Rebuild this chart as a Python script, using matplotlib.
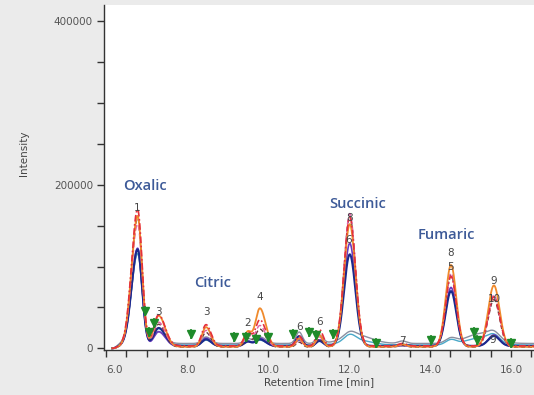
import numpy as np
import matplotlib
matplotlib.use("Agg")
import matplotlib.pyplot as plt
from matplotlib.ticker import MultipleLocator, FuncFormatter

# ---- peak table: retention times (min) and left/right widths (min) ----
peak_times = [6.78, 7.30, 8.47, 9.50, 9.80, 10.77, 11.27, 12.02, 13.32, 14.52, 15.58]
sigma_left = [0.15, 0.12, 0.10, 0.09, 0.11, 0.08, 0.08, 0.14, 0.10, 0.13, 0.14]
sigma_right = [0.11, 0.16, 0.12, 0.09, 0.14, 0.08, 0.09, 0.14, 0.10, 0.13, 0.14]

# ---- peak heights of each sample trace (intensity) ----
orange_heights = [160000, 38000, 24000, 18000, 47000, 10000, 14000, 150000, 3000, 100000, 75000]
red_heights = [167000, 38000, 26000, 16000, 32000, 12000, 20000, 157000, 3000, 85000, 60000]
pink_heights = [150000, 30000, 20000, 14000, 26000, 8000, 12000, 163000, 2000, 90000, 63000]
brown_heights = [158000, 28000, 18000, 10000, 22000, 6000, 10000, 160000, 2000, 88000, 58000]
navy_heights = [118000, 22000, 8000, 5000, 8000, 12000, 6000, 112000, 1000, 67000, 12000]
purple_heights = [120000, 18000, 10000, 6000, 10000, 8000, 8000, 126000, 1000, 72000, 14000]
teal_heights = [112000, 20000, 6000, 5000, 6000, 6000, 6000, 8000, 1000, 6000, 8000]
gray_heights = [110000, 14000, 8000, 6000, 8000, 14000, 10000, 6000, 3000, 6000, 8000]

# broad low humps on the gray and teal traces (time, height)
hump_times = [12.20, 15.25]
gray_hump_heights = [10000, 12000]
teal_hump_heights = [6000, 9000]

# baseline level of each trace
baselines = {"orange": 2000, "red": 3000, "pink": 2000, "brown": 1500,
             "navy": 3000, "purple": 2500, "teal": 4000, "gray": 6000}

# ---- peak integration markers (time, intensity) ----
marker_times = [6.96, 7.19, 7.05, 8.10, 9.16, 9.46, 9.70, 9.99, 10.61, 11.01, 11.19,
                11.60, 12.67, 14.02, 15.09, 15.17, 16.00]
marker_values = [46000, 31000, 20000, 18000, 14000, 14000, 12000, 14000, 18000, 20000, 16000,
                 18000, 6000, 10000, 20000, 10000, 6000]

# ---- peak numbers (time, intensity, label) ----
number_times = [6.78, 7.30, 8.47, 9.50, 9.80, 10.77, 11.27, 12.02, 12.00, 13.32, 14.50, 14.50, 15.58, 15.58, 15.55]
number_values = [172000, 45000, 44000, 31000, 63000, 26000, 32000, 160000, 133000, 9000, 117000, 100000, 82000, 60000, 10000]
number_labels = ["1", "3", "3", "2", "4", "6", "6", "8", "6", "7", "8", "5", "9", "10", "9"]

# ---- compound names ----
compound_names = ["Oxalic", "Citric", "Succinic", "Fumaric"]
compound_times = [6.95, 8.62, 12.21, 14.40]
compound_values = [198000, 80000, 177000, 139000]


def trace(t, heights, base, humps=None):
    y = np.full_like(t, float(base))
    for rt, h, sl, sr in zip(peak_times, heights, sigma_left, sigma_right):
        s = np.where(t < rt, sl, sr)
        y += h * np.exp(-0.5 * ((t - rt) / s) ** 2)
    if humps is not None:
        for rt, h in zip(hump_times, humps):
            y += h * np.exp(-0.5 * ((t - rt) / 0.35) ** 2)
    # fade the baseline in at the start of the run
    y -= base * np.exp(-((t - 6.15) / 0.15) ** 2)
    return y


t = np.linspace(6.15, 16.62, 1500)

fig = plt.figure(figsize=(5.34, 3.95), dpi=100)
fig.patch.set_facecolor("#ebebeb")
ax = fig.add_axes([104 / 534, 45 / 395, 430 / 534, 345 / 395])
ax.set_facecolor("white")

styles = [
    ("gray", gray_heights, gray_hump_heights, dict(color="#8a8fa0", lw=1.0)),
    ("teal", teal_heights, teal_hump_heights, dict(color="#4aa8c8", lw=1.0)),
    ("purple", purple_heights, None, dict(color="#6a3cc0", lw=1.2)),
    ("navy", navy_heights, None, dict(color="#1c2a8c", lw=1.5)),
    ("brown", brown_heights, None, dict(color="#6b3a3a", lw=1.0, ls=(0, (3, 2)))),
    ("pink", pink_heights, None, dict(color="#e060a8", lw=1.0, ls=(0, (4, 2)))),
    ("orange", orange_heights, None, dict(color="#f08a2c", lw=1.3)),
    ("red", red_heights, None, dict(color="#e5303c", lw=1.2, ls=(0, (4, 1.5, 1, 1.5)))),
]
for name, heights, humps, kw in styles:
    ax.plot(t, trace(t, heights, baselines[name], humps), **kw)

# integration markers
ax.plot(marker_times, marker_values, ls="none", marker="|", ms=7, mew=1.2, color="#1f8a2a")
ax.plot(marker_times, marker_values, ls="none", marker="v", ms=5.5, color="#1f8a2a")

# peak numbers
for x, y, s in zip(number_times, number_values, number_labels):
    ax.text(x, y, s, ha="center", va="center", fontsize=7.5, color="#454545")

# compound names
for s, x, y in zip(compound_names, compound_times, compound_values):
    ax.text(x, y, s, ha="center", va="center", fontsize=10.5, color="#3d5a98",
            family="Open Sans", fontweight="semibold")

ax.set_xlim(5.95, 16.57)
ax.set_ylim(-2000, 420000)

for side in ("top", "right"):
    ax.spines[side].set_visible(False)
for side in ("left", "bottom"):
    ax.spines[side].set_color("#333333")
    ax.spines[side].set_linewidth(1.0)

ax.xaxis.set_major_locator(MultipleLocator(0.5))
ax.xaxis.set_major_formatter(FuncFormatter(
    lambda v, p: f"{v:.1f}" if abs(v / 2 - round(v / 2)) < 1e-6 else ""))
ax.yaxis.set_major_locator(MultipleLocator(50000))
ax.yaxis.set_major_formatter(FuncFormatter(
    lambda v, p: f"{int(v)}" if abs(v / 200000 - round(v / 200000)) < 1e-6 else ""))
ax.tick_params(axis="both", direction="out", length=5, width=1.0, color="#333333",
               labelsize=7.5, labelcolor="#555555")
ax.tick_params(axis="x", pad=6)
ax.tick_params(axis="y", pad=3)

fig.canvas.draw()
for lab in ax.get_xticklabels():
    if lab.get_text() == "6.0":
        lab.set_ha("left")

ax.set_xlabel("Retention Time [min]", fontsize=7.5, color="#444444", labelpad=1)
ax.set_ylabel("Intensity", fontsize=7.5, color="#444444")
ax.yaxis.set_label_coords(-0.175, 0.57)

fig.savefig("out.png", dpi=100, facecolor=fig.get_facecolor())
